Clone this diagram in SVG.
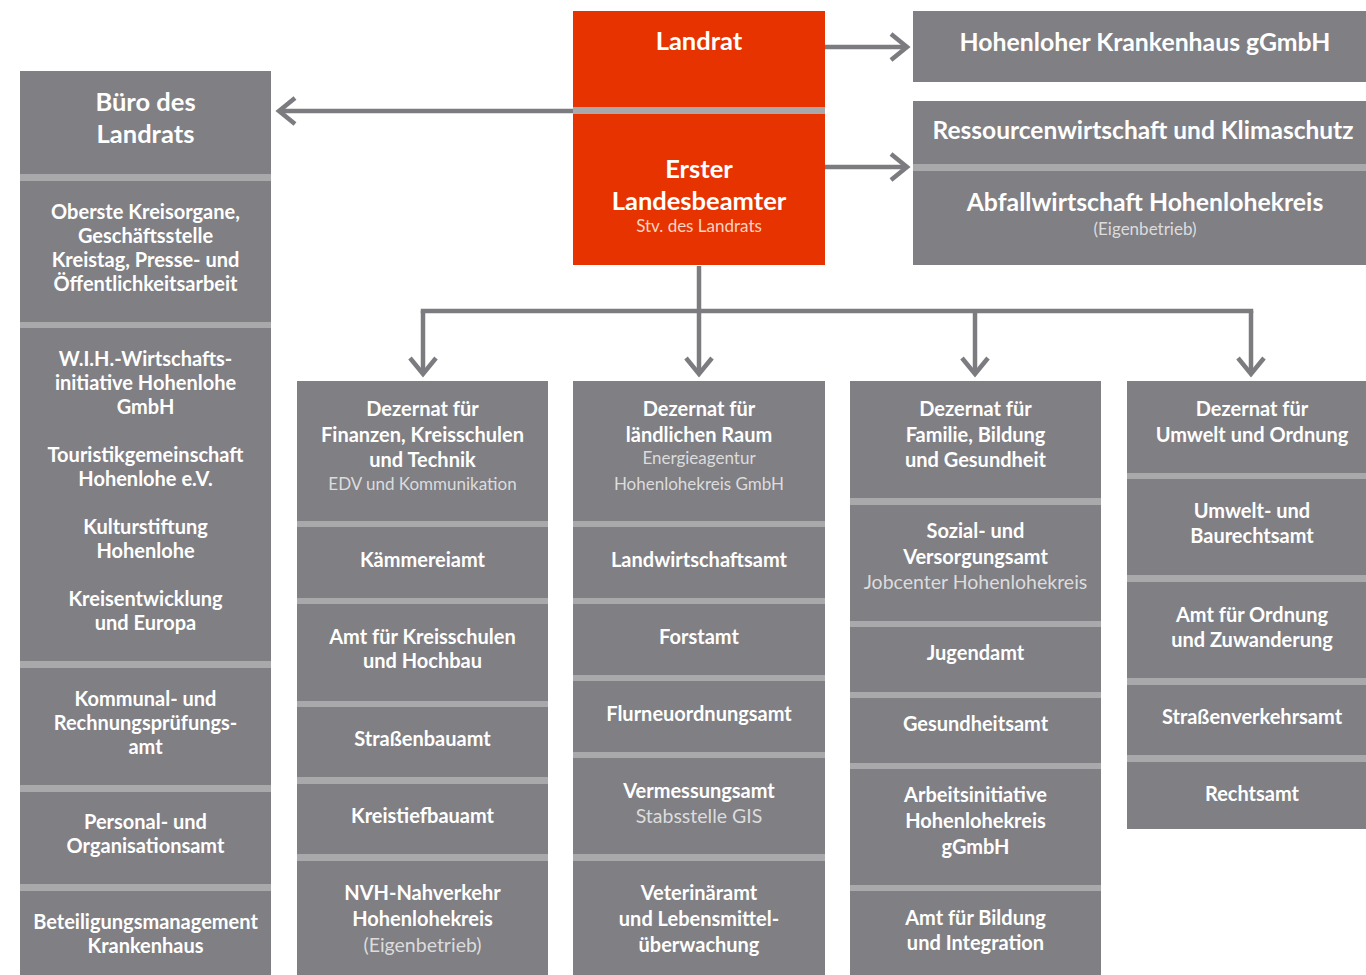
<svg xmlns="http://www.w3.org/2000/svg" width="1366" height="975" viewBox="0 0 1366 975">
<style>
.box{fill:#807f84}
.band{fill:#a9a9ac}
.red{fill:#e63300}
.t{font-family:Lato,"Open Sans",sans-serif;font-weight:700;fill:#ffffff;text-anchor:middle;font-size:20px}
.L{font-size:25.5px}
.R{font-size:24.8px}
.s{font-weight:400;fill:#dcdcdc;font-size:19.5px}
.ss{font-weight:400;fill:#dcdcdc;font-size:17px}
.sr{fill:#fbd2c4}
.conn{stroke:#7c7c80;stroke-width:4.5;fill:none}
</style>
<defs>
<marker id="arr" markerUnits="userSpaceOnUse" markerWidth="40" markerHeight="40" viewBox="-30 -20 40 40" refX="0" refY="0" orient="auto" overflow="visible">
<path d="M-16,-13 L0,0 L-16,13" fill="none" stroke="#7c7c80" stroke-width="4.5"/>
</marker>
</defs>
<rect width="1366" height="975" fill="#ffffff"/>

<g id="connectors">
<path class="conn" d="M573,111 L279,111" marker-end="url(#arr)"/>
<path class="conn" d="M825,47 L907,47" marker-end="url(#arr)"/>
<path class="conn" d="M825,167 L907,167" marker-end="url(#arr)"/>
<path class="conn" d="M699,266 L699,374" marker-end="url(#arr)"/>
<path class="conn" d="M423,311 L1251,311" stroke-linecap="square"/>
<path class="conn" d="M423,311 L423,374" marker-end="url(#arr)"/>
<path class="conn" d="M975,311 L975,374" marker-end="url(#arr)"/>
<path class="conn" d="M1251,311 L1251,374" marker-end="url(#arr)"/>
</g>

<!-- Landrat / Erster Landesbeamter -->
<g id="landrat">
<rect class="red" x="573" y="11" width="252" height="96"/>
<text class="t L" x="699" y="50">Landrat</text>
</g>
<g id="erster-landesbeamter">
<rect class="band" x="573" y="107" width="252" height="7"/>
<rect class="red" x="573" y="114" width="252" height="151"/>
<text class="t L" x="699" y="178">Erster</text>
<text class="t L" x="699" y="210">Landesbeamter</text>
<text class="t ss sr" x="699" y="232">Stv. des Landrats</text>
</g>

<!-- Top right -->
<g id="krankenhaus">
<rect class="box" x="913" y="11" width="465" height="71"/>
<text class="t R" x="1145" y="51">Hohenloher Krankenhaus gGmbH</text>
</g>
<g id="ressourcen">
<rect class="box" x="913" y="101" width="465" height="63"/>
<text class="t R" x="1143" y="139" textLength="421" lengthAdjust="spacingAndGlyphs">Ressourcenwirtschaft und Klimaschutz</text>
</g>
<g id="abfall">
<rect class="band" x="913" y="164" width="465" height="7"/>
<rect class="box" x="913" y="171" width="465" height="94"/>
<text class="t R" x="1145" y="211">Abfallwirtschaft Hohenlohekreis</text>
<text class="t ss" x="1145" y="235">(Eigenbetrieb)</text>
</g>

<!-- Left column -->
<g id="buero">
<rect class="box" x="20" y="71" width="251" height="103"/>
<text class="t L" x="145.5" y="111">Büro des</text>
<text class="t L" x="145.5" y="143">Landrats</text>
</g>
<g id="oberste">
<rect class="band" x="20" y="174" width="251" height="7"/>
<rect class="box" x="20" y="181" width="251" height="141"/>
<text class="t" x="145.5" y="219">Oberste Kreisorgane,</text>
<text class="t" x="145.5" y="243">Geschäftsstelle</text>
<text class="t" x="145.5" y="267">Kreistag, Presse- und</text>
<text class="t" x="145.5" y="291">Öffentlichkeitsarbeit</text>
</g>
<g id="wih">
<rect class="band" x="20" y="322" width="251" height="6"/>
<rect class="box" x="20" y="328" width="251" height="333"/>
<text class="t" x="145.5" y="366">W.I.H.-Wirtschafts-</text>
<text class="t" x="145.5" y="390">initiative Hohenlohe</text>
<text class="t" x="145.5" y="414">GmbH</text>
<text class="t" x="145.5" y="462">Touristikgemeinschaft</text>
<text class="t" x="145.5" y="486">Hohenlohe e.V.</text>
<text class="t" x="145.5" y="534">Kulturstiftung</text>
<text class="t" x="145.5" y="558">Hohenlohe</text>
<text class="t" x="145.5" y="606">Kreisentwicklung</text>
<text class="t" x="145.5" y="630">und Europa</text>
</g>
<g id="kommunal">
<rect class="band" x="20" y="661" width="251" height="7"/>
<rect class="box" x="20" y="668" width="251" height="117"/>
<text class="t" x="145.5" y="706">Kommunal- und</text>
<text class="t" x="145.5" y="730">Rechnungsprüfungs-</text>
<text class="t" x="145.5" y="754">amt</text>
</g>
<g id="personal">
<rect class="band" x="20" y="785" width="251" height="7"/>
<rect class="box" x="20" y="792" width="251" height="92"/>
<text class="t" x="145.5" y="829">Personal- und</text>
<text class="t" x="145.5" y="853">Organisationsamt</text>
</g>
<g id="beteiligung">
<rect class="band" x="20" y="884" width="251" height="7"/>
<rect class="box" x="20" y="891" width="251" height="84"/>
<text class="t" x="145.5" y="929">Beteiligungsmanagement</text>
<text class="t" x="145.5" y="953">Krankenhaus</text>
</g>

<!-- Column 1 -->
<g id="dezernat-finanzen">
<rect class="box" x="297" y="381" width="251" height="140"/>
<text class="t" x="422.5" y="416">Dezernat für</text>
<text class="t" x="422.5" y="442">Finanzen, Kreisschulen</text>
<text class="t" x="422.5" y="467">und Technik</text>
<text class="t ss" x="422.5" y="490">EDV und Kommunikation</text>
</g>
<g id="kaemmereiamt">
<rect class="band" x="297" y="521" width="251" height="6"/>
<rect class="box" x="297" y="527" width="251" height="71"/>
<text class="t" x="422.5" y="567">Kämmereiamt</text>
</g>
<g id="kreisschulen">
<rect class="band" x="297" y="598" width="251" height="6"/>
<rect class="box" x="297" y="604" width="251" height="97"/>
<text class="t" x="422.5" y="644">Amt für Kreisschulen</text>
<text class="t" x="422.5" y="668">und Hochbau</text>
</g>
<g id="strassenbauamt">
<rect class="band" x="297" y="701" width="251" height="6"/>
<rect class="box" x="297" y="707" width="251" height="70"/>
<text class="t" x="422.5" y="746">Straßenbauamt</text>
</g>
<g id="kreistiefbauamt">
<rect class="band" x="297" y="777" width="251" height="7"/>
<rect class="box" x="297" y="784" width="251" height="70"/>
<text class="t" x="422.5" y="823">Kreistiefbauamt</text>
</g>
<g id="nvh">
<rect class="band" x="297" y="854" width="251" height="7"/>
<rect class="box" x="297" y="861" width="251" height="114"/>
<text class="t" x="422.5" y="900">NVH-Nahverkehr</text>
<text class="t" x="422.5" y="926">Hohenlohekreis</text>
<text class="t s" x="422.5" y="952">(Eigenbetrieb)</text>
</g>

<!-- Column 2 -->
<g id="dezernat-laendlich">
<rect class="box" x="573" y="381" width="252" height="140"/>
<text class="t" x="699" y="416">Dezernat für</text>
<text class="t" x="699" y="442">ländlichen Raum</text>
<text class="t ss" x="699" y="464">Energieagentur</text>
<text class="t ss" x="699" y="490">Hohenlohekreis GmbH</text>
</g>
<g id="landwirtschaftsamt">
<rect class="band" x="573" y="521" width="252" height="6"/>
<rect class="box" x="573" y="527" width="252" height="71"/>
<text class="t" x="699" y="567">Landwirtschaftsamt</text>
</g>
<g id="forstamt">
<rect class="band" x="573" y="598" width="252" height="6"/>
<rect class="box" x="573" y="604" width="252" height="71"/>
<text class="t" x="699" y="644">Forstamt</text>
</g>
<g id="flurneuordnungsamt">
<rect class="band" x="573" y="675" width="252" height="6"/>
<rect class="box" x="573" y="681" width="252" height="71"/>
<text class="t" x="699" y="721">Flurneuordnungsamt</text>
</g>
<g id="vermessungsamt">
<rect class="band" x="573" y="752" width="252" height="6"/>
<rect class="box" x="573" y="758" width="252" height="96"/>
<text class="t" x="699" y="798">Vermessungsamt</text>
<text class="t s" x="699" y="823">Stabsstelle GIS</text>
</g>
<g id="veterinaeramt">
<rect class="band" x="573" y="854" width="252" height="7"/>
<rect class="box" x="573" y="861" width="252" height="114"/>
<text class="t" x="699" y="900">Veterinäramt</text>
<text class="t" x="699" y="926">und Lebensmittel-</text>
<text class="t" x="699" y="952">überwachung</text>
</g>

<!-- Column 3 -->
<g id="dezernat-familie">
<rect class="box" x="850" y="381" width="251" height="117"/>
<text class="t" x="975.5" y="416">Dezernat für</text>
<text class="t" x="975.5" y="442">Familie, Bildung</text>
<text class="t" x="975.5" y="467">und Gesundheit</text>
</g>
<g id="sozialamt">
<rect class="band" x="850" y="498" width="251" height="7"/>
<rect class="box" x="850" y="505" width="251" height="116"/>
<text class="t" x="975.5" y="538">Sozial- und</text>
<text class="t" x="975.5" y="564">Versorgungsamt</text>
<text class="t s" x="975.5" y="589">Jobcenter Hohenlohekreis</text>
</g>
<g id="jugendamt">
<rect class="band" x="850" y="621" width="251" height="6"/>
<rect class="box" x="850" y="627" width="251" height="65"/>
<text class="t" x="975.5" y="660">Jugendamt</text>
</g>
<g id="gesundheitsamt">
<rect class="band" x="850" y="692" width="251" height="6"/>
<rect class="box" x="850" y="698" width="251" height="65"/>
<text class="t" x="975.5" y="731">Gesundheitsamt</text>
</g>
<g id="arbeitsinitiative">
<rect class="band" x="850" y="763" width="251" height="6"/>
<rect class="box" x="850" y="769" width="251" height="116"/>
<text class="t" x="975.5" y="802">Arbeitsinitiative</text>
<text class="t" x="975.5" y="828">Hohenlohekreis</text>
<text class="t" x="975.5" y="854">gGmbH</text>
</g>
<g id="bildung">
<rect class="band" x="850" y="885" width="251" height="6"/>
<rect class="box" x="850" y="891" width="251" height="84"/>
<text class="t" x="975.5" y="925">Amt für Bildung</text>
<text class="t" x="975.5" y="950">und Integration</text>
</g>

<!-- Column 4 -->
<g id="dezernat-umwelt">
<rect class="box" x="1127" y="381" width="251" height="92"/>
<text class="t" x="1252" y="416">Dezernat für</text>
<text class="t" x="1252" y="442">Umwelt und Ordnung</text>
</g>
<g id="baurechtsamt">
<rect class="band" x="1127" y="473" width="251" height="6"/>
<rect class="box" x="1127" y="479" width="251" height="96"/>
<text class="t" x="1252" y="518">Umwelt- und</text>
<text class="t" x="1252" y="543">Baurechtsamt</text>
</g>
<g id="ordnungsamt">
<rect class="band" x="1127" y="575" width="251" height="7"/>
<rect class="box" x="1127" y="582" width="251" height="96"/>
<text class="t" x="1252" y="622">Amt für Ordnung</text>
<text class="t" x="1252" y="647">und Zuwanderung</text>
</g>
<g id="strassenverkehrsamt">
<rect class="band" x="1127" y="678" width="251" height="7"/>
<rect class="box" x="1127" y="685" width="251" height="70"/>
<text class="t" x="1252" y="724">Straßenverkehrsamt</text>
</g>
<g id="rechtsamt">
<rect class="band" x="1127" y="755" width="251" height="7"/>
<rect class="box" x="1127" y="762" width="251" height="67"/>
<text class="t" x="1252" y="801">Rechtsamt</text>
</g>
</svg>
